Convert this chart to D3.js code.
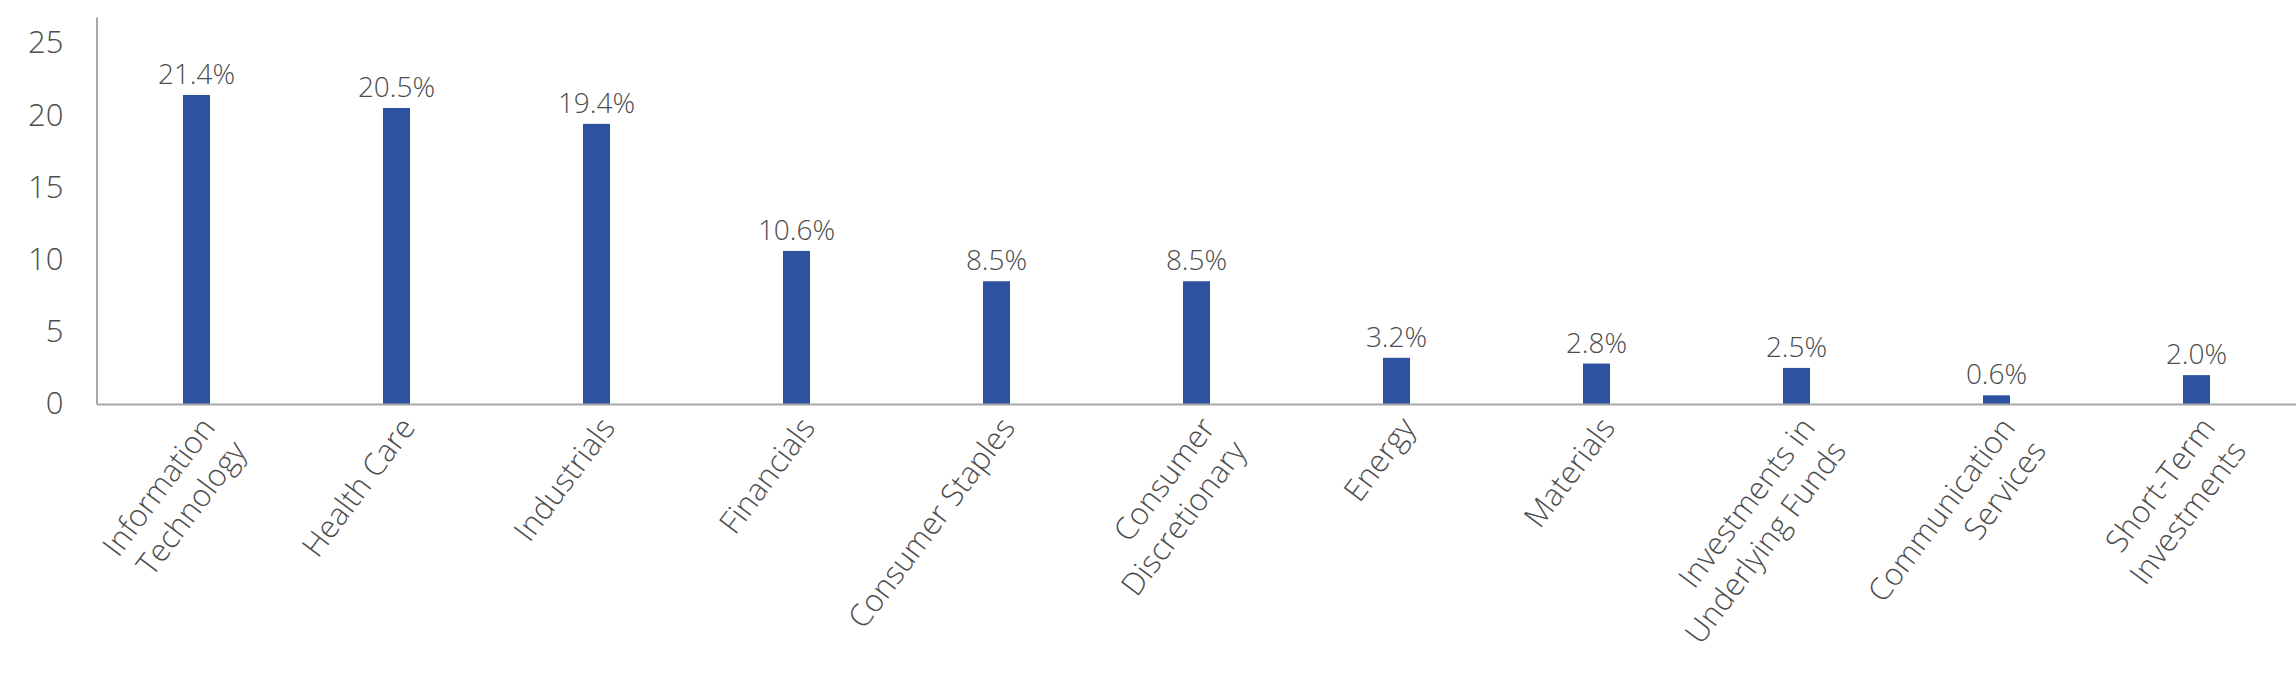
<!DOCTYPE html>
<html>
<head>
<meta charset="utf-8">
<script src="https://cdn.jsdelivr.net/npm/d3@7"></script>
<style>
  html, body { margin: 0; padding: 0; background: #ffffff; }
  svg { display: block; }
  text { font-family: "Open Sans", Lato, sans-serif; font-weight: 300; fill: #4D4D4D; }
</style>
</head>
<body>
<svg id="chart" width="2296" height="692"></svg>
<script>
const categories = [
  "Information\nTechnology",
  "Health Care",
  "Industrials",
  "Financials",
  "Consumer Staples",
  "Consumer\nDiscretionary",
  "Energy",
  "Materials",
  "Investments in\nUnderlying Funds",
  "Communication\nServices",
  "Short-Term\nInvestments"
];
const values = [21.4, 20.5, 19.4, 10.6, 8.5, 8.5, 3.2, 2.8, 2.5, 0.6, 2.0];
const yTicks = [0, 5, 10, 15, 20, 25];
const yAxisTop = 26.8;

const plotLeft = 96.5, plotRight = 2296.5, plotBottom = 404, plotTop = 17;
const svg = d3.select("#chart");

const x = d3.scaleBand()
  .domain(categories)
  .range([plotLeft, plotRight])
  .paddingInner(0.865)
  .paddingOuter(0.865 / 2);

const y = d3.scaleLinear()
  .domain([0, yAxisTop])
  .range([plotBottom, plotTop]);

// y axis
const yAxis = d3.axisLeft(y)
  .tickValues(yTicks)
  .tickSize(0)
  .tickPadding(33)
  .tickFormat(d3.format("d"));
const gy = svg.append("g").attr("transform", `translate(${plotLeft},0)`).call(yAxis);
gy.select(".domain").attr("stroke", "#A8A8A8").attr("stroke-width", 2);
gy.selectAll(".tick text")
  .attr("font-size", 31)
  .attr("fill", "#4D4D4D")
  .style("font-family", "'Open Sans', Lato, sans-serif")
  .style("font-weight", 300);

// bars
svg.append("g").selectAll("rect")
  .data(values)
  .join("rect")
  .attr("x", (d, i) => x(categories[i]))
  .attr("width", x.bandwidth())
  .attr("y", d => y(d))
  .attr("height", d => y(0) - y(d))
  .attr("fill", "#2C52A0");

// x axis baseline
const xAxis = d3.axisBottom(x).tickSize(0).tickFormat("");
const gx = svg.append("g").attr("transform", `translate(0,${plotBottom})`).call(xAxis);
gx.select(".domain").attr("stroke", "#A8A8A8").attr("stroke-width", 2);

// value labels
svg.append("g").selectAll("text")
  .data(values)
  .join("text")
  .attr("x", (d, i) => x(categories[i]) + x.bandwidth() / 2)
  .attr("y", d => y(d) - 11)
  .attr("text-anchor", "middle")
  .attr("font-size", 28)
  .text(d => d.toFixed(1) + "%");

// category labels (rotated)
const lab = svg.append("g").selectAll("text")
  .data(categories)
  .join("text")
  .attr("transform", d => `translate(${x(d) + x.bandwidth() / 2 + 20},428) rotate(-53)`)
  .attr("text-anchor", "end")
  .attr("font-size", 31);
lab.each(function(d) {
  const t = d3.select(this);
  d.split("\n").forEach((line, j) => {
    t.append("tspan").attr("x", 0).attr("dy", j === 0 ? 0 : "1.25em").text(line);
  });
});
</script>
</body>
</html>
